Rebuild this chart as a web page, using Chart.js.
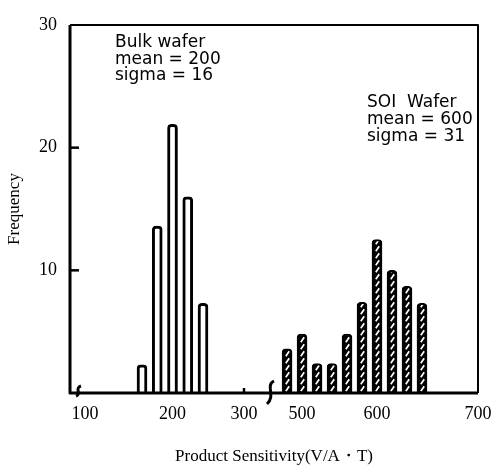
<!DOCTYPE html>
<html lang="en">
<head>
<meta charset="UTF-8">
<title>Product Sensitivity histogram</title>
<script src="https://cdn.jsdelivr.net/npm/chart.js"></script>
<style>
  html, body { margin: 0; padding: 0; background: #fff; }
  #wrap { width: 493px; height: 469px; }
</style>
</head>
<body>
<div id="wrap"><canvas id="histChart"></canvas></div>
<script>
// bin centres (V/A·T) and counts
const bulkBins = [160, 180, 200, 220, 240];
const bulkFreq = [2.3, 13.6, 21.9, 16, 7.3];
const soiBins = [480, 500, 520, 540, 560, 580, 600, 620, 640, 660];
const soiFreq = [3.6, 4.8, 2.4, 2.4, 4.8, 7.4, 12.5, 10, 8.7, 7.3];
const xTickValues = [100, 200, 300, 500, 600, 700];
const yTickValues = [10, 20, 30];
const bulkNote = ['Bulk wafer', 'mean = 200', 'sigma = 16'];
const soiNote = ['SOI  Wafer', 'mean = 600', 'sigma = 31'];

// printed axis is broken between 300 and 500 and not to scale,
// so x values go through these knots (value -> fraction of plot width)
const axisKnots = [[80, 0], [100, 0.037], [160, 0.1765], [240, 0.326], [300, 0.4265],
  [330, 0.478], [470, 0.5025], [480, 0.532], [660, 0.8627], [700, 1]];

function knotFrac(v) {
  const k = axisKnots;
  if (v <= k[0][0]) return k[0][1];
  for (let i = 1; i < k.length; i++) {
    if (v <= k[i][0]) {
      const t = (v - k[i - 1][0]) / (k[i][0] - k[i - 1][0]);
      return k[i - 1][1] + t * (k[i][1] - k[i - 1][1]);
    }
  }
  return k[k.length - 1][1];
}
function knotValue(f) {
  const k = axisKnots;
  for (let i = 1; i < k.length; i++) {
    if (f <= k[i][1]) {
      const t = (f - k[i - 1][1]) / (k[i][1] - k[i - 1][1]);
      return k[i - 1][0] + t * (k[i][0] - k[i - 1][0]);
    }
  }
  return k[k.length - 1][0];
}

class BrokenScale extends Chart.LinearScale {
  getPixelForValue(value) {
    if (value === null || value === undefined) return NaN;
    return this.left + knotFrac(value) * this.width;
  }
  getValueForPixel(pixel) {
    return knotValue((pixel - this.left) / this.width);
  }
}
BrokenScale.id = 'broken';
BrokenScale.defaults = Chart.LinearScale.defaults;
Chart.register(BrokenScale);

const canvas = document.getElementById('histChart');

// black bar with a column of white slanted dashes
const tile = document.createElement('canvas');
tile.width = 15; tile.height = 7;
const tg = tile.getContext('2d');
tg.fillStyle = '#000';
tg.fillRect(0, 0, 15, 7);
tg.strokeStyle = '#fff';
tg.lineWidth = 1.7;
tg.beginPath();
tg.moveTo(5.8, 6.2);
tg.lineTo(9.2, 1.2);
tg.stroke();
const hatch = canvas.getContext('2d').createPattern(tile, 'repeat');

const serif = '"Liberation Serif", "Times New Roman", serif';

const framePlugin = {
  id: 'frame',
  beforeDatasetsDraw(chart) {
    const x0 = chart.scales.x.getPixelForValue(soiBins[0]);
    if (hatch.setTransform) hatch.setTransform(new DOMMatrix([1, 0, 0, 1, Math.round(x0 - 7.5), 0]));
  },
  afterDatasetsDraw(chart) {
    const { ctx, chartArea: a, scales: { x, y } } = chart;
    ctx.save();
    ctx.strokeStyle = '#000';
    ctx.lineJoin = 'round';
    ctx.lineWidth = 2;
    ctx.beginPath();
    ctx.moveTo(a.left, a.top);
    ctx.lineTo(a.right, a.top);
    ctx.lineTo(a.right, a.bottom);
    ctx.stroke();
    ctx.lineWidth = 3;
    ctx.beginPath();
    ctx.moveTo(a.left, a.top);
    ctx.lineTo(a.left, a.bottom);
    ctx.lineTo(a.right, a.bottom);
    ctx.stroke();

    // inward y ticks
    ctx.lineWidth = 2.5;
    yTickValues.slice(0, 2).forEach(v => {
      const py = y.getPixelForValue(v);
      ctx.beginPath();
      ctx.moveTo(a.left, py);
      ctx.lineTo(a.left + 9, py);
      ctx.stroke();
    });
    // small mark at 300
    const p300 = x.getPixelForValue(300);
    ctx.beginPath();
    ctx.moveTo(p300, a.bottom);
    ctx.lineTo(p300, a.bottom - 5);
    ctx.stroke();

    // axis break marks
    ctx.lineWidth = 3;
    const bx = x.getPixelForValue(400);
    ctx.beginPath();
    ctx.moveTo(bx + 4, a.bottom - 12);
    ctx.bezierCurveTo(bx - 5, a.bottom - 8, bx + 6, a.bottom + 3, bx - 3, a.bottom + 11);
    ctx.stroke();
    const lx = a.left + 8;
    ctx.beginPath();
    ctx.moveTo(lx + 3, a.bottom - 7);
    ctx.bezierCurveTo(lx - 4, a.bottom - 5, lx + 4, a.bottom + 1, lx - 2, a.bottom + 3);
    ctx.stroke();

    // notes
    ctx.fillStyle = '#000';
    ctx.font = '17px "DejaVu Sans", sans-serif';
    ctx.textBaseline = 'alphabetic';
    bulkNote.forEach((t, i) => ctx.fillText(t, a.left + 45, a.top + 22 + i * 16.5));
    soiNote.forEach((t, i) => ctx.fillText(t, a.left + 297, a.top + 82 + i * 17));
    ctx.restore();
  }
};

new Chart(canvas, {
  type: 'bar',
  data: {
    datasets: [
      {
        label: 'Bulk wafer',
        data: bulkBins.map((b, i) => ({ x: b, y: bulkFreq[i] })),
        backgroundColor: '#fff',
        borderColor: '#000',
        borderWidth: 3,
        borderRadius: { topLeft: 4, topRight: 4 },
        borderSkipped: 'bottom',
        barThickness: 10,
        grouped: false
      },
      {
        label: 'SOI Wafer',
        data: soiBins.map((b, i) => ({ x: b, y: soiFreq[i] })),
        backgroundColor: hatch,
        borderColor: '#000',
        borderWidth: 2,
        borderRadius: { topLeft: 4, topRight: 4 },
        borderSkipped: 'bottom',
        barThickness: 10,
        grouped: false
      }
    ]
  },
  options: {
    responsive: true,
    maintainAspectRatio: false,
    animation: false,
    layout: { padding: { top: 25, right: 15, left: 0, bottom: 0 } },
    plugins: { legend: { display: false }, tooltip: { enabled: false } },
    scales: {
      x: {
        type: 'broken',
        min: 80,
        max: 700,
        grid: { display: false, drawTicks: false },
        border: { display: false },
        afterBuildTicks: s => { s.ticks = xTickValues.map(v => ({ value: v })); },
        afterFit: s => { s.height = 76; s.paddingLeft = 0; s.paddingRight = 0; },
        ticks: {
          autoSkip: false, maxRotation: 0, padding: 10, color: '#000',
          font: { family: serif, size: 18 },
          callback: v => String(v)
        },
        title: {
          display: true, text: 'Product Sensitivity(V/A・T)', color: '#000',
          font: { family: serif, size: 17 }, padding: { top: 0, bottom: 2 }
        }
      },
      y: {
        min: 0,
        max: 30,
        grid: { display: false, drawTicks: false },
        border: { display: false },
        afterBuildTicks: s => { s.ticks = yTickValues.map(v => ({ value: v })); },
        afterFit: s => { s.width = 70; },
        ticks: {
          padding: 13, color: '#000',
          font: { family: serif, size: 18 },
          callback: v => String(v)
        },
        title: {
          display: true, text: 'Frequency', color: '#000',
          font: { family: serif, size: 17 }, padding: { top: 4, bottom: 0 }
        }
      }
    }
  },
  plugins: [framePlugin]
});
</script>
</body>
</html>
